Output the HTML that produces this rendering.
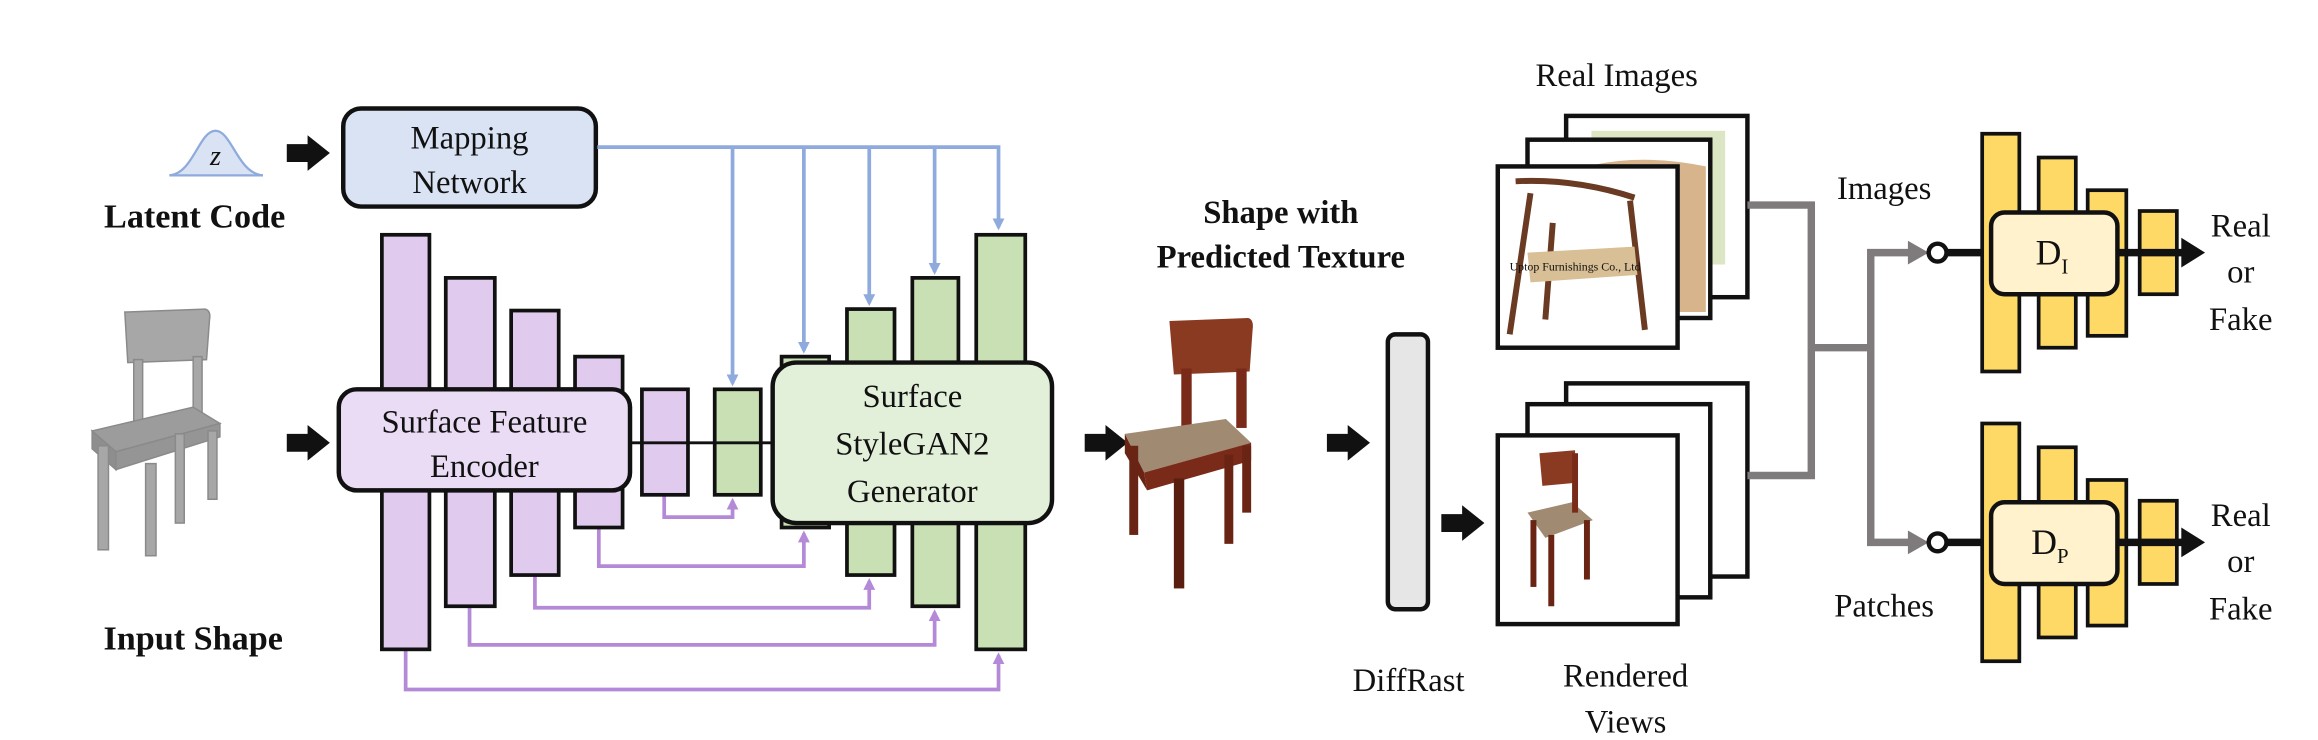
<!DOCTYPE html>
<html><head><meta charset="utf-8"><style>
html,body{margin:0;padding:0;background:#fff;}
svg{display:block;}
text{font-family:"Liberation Serif",serif;fill:#111;}
</style></head><body>
<svg width="2318" height="740" viewBox="0 0 1560 498" xmlns="http://www.w3.org/2000/svg">
<defs>
<marker id="ab" markerWidth="8" markerHeight="8" refX="6" refY="4" orient="auto" markerUnits="userSpaceOnUse"><path d="M0,0 L8,4 L0,8 Z" fill="#8faadc"/></marker>
<marker id="ap" markerWidth="8" markerHeight="8" refX="6" refY="4" orient="auto" markerUnits="userSpaceOnUse"><path d="M0,0 L8,4 L0,8 Z" fill="#b48ad8"/></marker>
<g id="bar"><path d="M0,-6 h14 v-6 l15,12 l-15,12 v-6 h-14 z" fill="#111"/></g>
</defs>

<!-- Gaussian -->
<path d="M114,118 C130,117 134,88 145,88 C156,88 160,117 177,118" fill="#dae3f3" stroke="#8faadc" stroke-width="1.5"/>
<line x1="114" y1="118" x2="177" y2="118" stroke="#8faadc" stroke-width="1.5"/>
<text x="145" y="111" font-size="19" font-style="italic" text-anchor="middle">z</text>
<text x="131" y="153" font-size="23" font-weight="bold" text-anchor="middle">Latent Code</text>
<use href="#bar" x="193" y="103"/>

<!-- Mapping -->
<rect x="231" y="73" width="170" height="66" rx="12" fill="#dae3f3" stroke="#111" stroke-width="3"/>
<text x="316" y="100" font-size="22" text-anchor="middle">Mapping</text>
<text x="316" y="130" font-size="22" text-anchor="middle">Network</text>

<!-- blue lines -->
<g stroke="#8faadc" stroke-width="2.5" fill="none">
<polyline points="402,99 672,99 672,153" marker-end="url(#ab)"/>
<line x1="493" y1="99" x2="493" y2="258" marker-end="url(#ab)"/>
<line x1="541" y1="99" x2="541" y2="236" marker-end="url(#ab)"/>
<line x1="585" y1="99" x2="585" y2="204" marker-end="url(#ab)"/>
<line x1="629" y1="99" x2="629" y2="183" marker-end="url(#ab)"/>
</g>

<!-- input chair -->
<g fill="#a7a7a7" stroke="#8a8a8a" stroke-width="1">
<path d="M84,210 L138,208 Q142,209 141,215 L139,242 L86,244 Z"/>
<rect x="90" y="242" width="6" height="45"/><rect x="130" y="240" width="6" height="45"/>
<path d="M62,290 L130,274 L148,285 L78,304 Z" fill="#9c9c9c"/>
<path d="M62,290 L78,304 L78,316 L62,302 Z" fill="#8e8e8e"/>
<path d="M78,304 L148,285 L148,294 L78,316 Z" fill="#959595"/>
<rect x="66" y="300" width="7" height="70"/><rect x="98" y="312" width="7" height="62"/>
<rect x="118" y="292" width="6" height="60"/><rect x="140" y="290" width="6" height="46"/>
</g>
<text x="130" y="437" font-size="23" font-weight="bold" text-anchor="middle">Input Shape</text>
<use href="#bar" x="193" y="298"/>

<!-- purple skip lines -->
<g stroke="#b48ad8" stroke-width="2.5" fill="none">
<polyline points="447,333 447,348 493,348 493,337" marker-end="url(#ap)"/>
<polyline points="403,355 403,381 541,381 541,359" marker-end="url(#ap)"/>
<polyline points="360,387 360,409 585,409 585,391" marker-end="url(#ap)"/>
<polyline points="316,408 316,434 629,434 629,412" marker-end="url(#ap)"/>
<polyline points="273,437 273,464 672,464 672,441" marker-end="url(#ap)"/>
</g>

<!-- bars -->
<g stroke="#111" stroke-width="2.5">
<g fill="#e0cbef">
<rect x="257" y="158" width="32" height="279"/>
<rect x="300" y="187" width="33" height="221"/>
<rect x="344" y="209" width="32" height="178"/>
<rect x="387" y="240" width="32" height="115"/>
<rect x="432" y="262" width="31" height="71"/>
</g>
<g fill="#c9e0b4">
<rect x="481" y="262" width="31" height="71"/>
<rect x="526" y="240" width="32" height="115"/>
<rect x="570" y="208" width="32" height="179"/>
<rect x="614" y="187" width="31" height="221"/>
<rect x="657" y="158" width="33" height="279"/>
</g>
</g>
<line x1="424" y1="298" x2="520" y2="298" stroke="#111" stroke-width="2"/>

<rect x="228" y="262" width="196" height="68" rx="12" fill="#eadcf5" stroke="#111" stroke-width="3"/>
<text x="326" y="291" font-size="22" text-anchor="middle">Surface Feature</text>
<text x="326" y="321" font-size="22" text-anchor="middle">Encoder</text>

<rect x="520" y="244" width="188" height="108" rx="16" fill="#e2efd9" stroke="#111" stroke-width="3"/>
<text x="614" y="274" font-size="22" text-anchor="middle">Surface</text>
<text x="614" y="306" font-size="22" text-anchor="middle">StyleGAN2</text>
<text x="614" y="338" font-size="22" text-anchor="middle">Generator</text>

<use href="#bar" x="730" y="298"/>

<!-- textured chair -->
<text x="862" y="150" font-size="22" font-weight="bold" text-anchor="middle">Shape with</text>
<text x="862" y="180" font-size="22" font-weight="bold" text-anchor="middle">Predicted Texture</text>
<g>
<path d="M787,216 L840,214 Q844,215 843,222 L841,250 L790,252 Z" fill="#8b3a22"/>
<rect x="795" y="248" width="7" height="40" fill="#7a2a18"/><rect x="832" y="248" width="7" height="40" fill="#7a2a18"/>
<path d="M757,292 L825,282 L842,298 L770,318 Z" fill="#a08a72"/>
<path d="M757,292 L770,318 L772,330 L757,305 Z" fill="#6a2414"/>
<path d="M770,318 L842,298 L842,310 L772,330 Z" fill="#7a2a18"/>
<rect x="760" y="300" width="6" height="60" fill="#6a2414"/><rect x="790" y="322" width="7" height="74" fill="#5a1e10"/>
<rect x="824" y="306" width="6" height="60" fill="#6a2414"/><rect x="836" y="300" width="6" height="45" fill="#6a2414"/>
</g>
<use href="#bar" x="893" y="298"/>

<!-- DiffRast -->
<rect x="934" y="225" width="27" height="185" rx="5" fill="#e7e6e6" stroke="#111" stroke-width="3"/>
<text x="948" y="465" font-size="22" text-anchor="middle">DiffRast</text>
<use href="#bar" x="970" y="352"/>

<!-- Real images -->
<text x="1088" y="58" font-size="22" text-anchor="middle">Real Images</text>
<g stroke="#111" stroke-width="3">
<rect x="1054" y="78" width="122" height="122" fill="#fff"/>
<rect x="1071" y="88" width="90" height="90" fill="#dde6c4" stroke="none"/>
<rect x="1028" y="94" width="123" height="120" fill="#fff"/>
<path d="M1045,120 Q1090,100 1148,112 L1148,210 L1045,210 Z" fill="#d7b48c" stroke="none"/>
<rect x="1008" y="112" width="121" height="122" fill="#fff"/>
</g>
<g stroke="#6b3a22" stroke-width="4" fill="none">
<path d="M1020,122 Q1060,120 1100,133"/><line x1="1030" y1="130" x2="1016" y2="225"/>
<line x1="1097" y1="135" x2="1107" y2="222"/><line x1="1045" y1="150" x2="1040" y2="215"/>
</g>
<path d="M1028,170 L1100,166 L1102,185 L1030,190 Z" fill="#d8bf95"/>
<text x="1060" y="182" font-size="8" fill="#bbb" font-family="Liberation Sans,sans-serif" text-anchor="middle">Uptop Furnishings Co., Ltd</text>

<!-- Rendered views -->
<g stroke="#111" stroke-width="3">
<rect x="1054" y="258" width="122" height="130" fill="#fff"/>
<rect x="1028" y="272" width="123" height="130" fill="#fff"/>
<rect x="1008" y="293" width="121" height="127" fill="#fff"/>
</g>
<path d="M1036,305 L1060,303 L1060,325 L1038,327 Z" fill="#8b3a22"/>
<path d="M1028,345 L1058,338 L1072,350 L1040,362 Z" fill="#a08a72"/>
<rect x="1030" y="350" width="4" height="45" fill="#6a2414"/><rect x="1042" y="360" width="4" height="48" fill="#6a2414"/>
<rect x="1066" y="350" width="4" height="40" fill="#6a2414"/><rect x="1058" y="305" width="4" height="40" fill="#7a2a18"/>
<text x="1094" y="462" font-size="22" text-anchor="middle">Rendered</text>
<text x="1094" y="493" font-size="22" text-anchor="middle">Views</text>

<!-- gray connectors -->
<g stroke="#7f7b7d" stroke-width="5" fill="none">
<polyline points="1176,138 1219,138 1219,320 1176,320"/>
<line x1="1219" y1="234" x2="1259" y2="234"/>
<polyline points="1288,170 1259,170 1259,365 1288,365"/>
</g>
<path d="M1284,162 L1298,170 L1284,178 Z" fill="#7f7b7d"/>
<path d="M1284,357 L1298,365 L1284,373 Z" fill="#7f7b7d"/>
<text x="1268" y="134" font-size="22" text-anchor="middle">Images</text>
<text x="1268" y="415" font-size="22" text-anchor="middle">Patches</text>

<!-- Discriminators -->
<g id="disc">
<line x1="1302" y1="170" x2="1345" y2="170" stroke="#111" stroke-width="5"/>
<circle cx="1304" cy="170" r="6" fill="#fff" stroke="#111" stroke-width="3"/>
<g fill="#ffd966" stroke="#111" stroke-width="2.5">
<rect x="1334" y="90" width="25" height="160"/>
<rect x="1372" y="106" width="25" height="128"/>
<rect x="1405" y="128" width="26" height="98"/>
<rect x="1440" y="142" width="25" height="56"/>
</g>
<rect x="1340" y="143" width="85" height="55" rx="9" fill="#fff2cc" stroke="#111" stroke-width="3"/>
<line x1="1425" y1="170" x2="1470" y2="170" stroke="#111" stroke-width="5"/>
<path d="M1468,160 L1484,170 L1468,180 Z" fill="#111"/>
<text x="1508" y="159" font-size="22" text-anchor="middle">Real</text>
<text x="1508" y="190" font-size="22" text-anchor="middle">or</text>
<text x="1508" y="222" font-size="22" text-anchor="middle">Fake</text>
</g>
<text x="1370" y="178" font-size="24">D<tspan font-size="14" dy="6">I</tspan></text>
<use href="#disc" x="0" y="195"/>
<text x="1367" y="373" font-size="24">D<tspan font-size="14" dy="6">P</tspan></text>
</svg>
</body></html>
